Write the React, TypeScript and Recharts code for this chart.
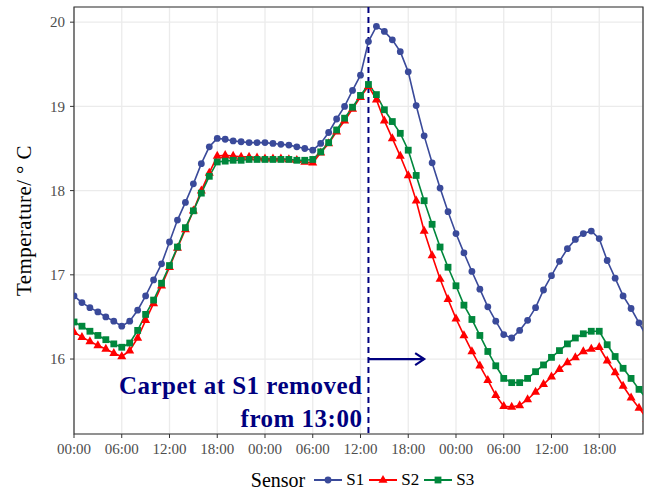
import { LineChart, Line, XAxis, YAxis, CartesianGrid, ReferenceLine, ReferenceArea, Legend } from "recharts";

const FONT = '"Liberation Serif", "DejaVu Serif", serif';
const NAVY = "#00007f";
const C1 = "#3a4a9a";
const C2 = "#ff0000";
const C3 = "#00873c";

// hours since 00:00 of day 1
const hours = [
  0, 1, 2, 3, 4, 5, 6, 7, 8, 9, 10, 11, 12, 13, 14, 15, 16, 17, 18, 19, 20, 21, 22, 23,
  24, 25, 26, 27, 28, 29, 30, 31, 32, 33, 34, 35, 36, 37, 38, 39, 40, 41, 42, 43, 44, 45, 46, 47,
  48, 49, 50, 51, 52, 53, 54, 55, 56, 57, 58, 59, 60, 61, 62, 63, 64, 65, 66, 67, 68, 69, 70, 71, 72,
];

const s1 = [
  16.75, 16.67, 16.61, 16.56, 16.5, 16.45, 16.39, 16.45, 16.58, 16.75, 16.94, 17.13, 17.39, 17.65, 17.86, 18.08,
  18.32, 18.52, 18.62, 18.61, 18.59, 18.58, 18.57, 18.57, 18.57, 18.56, 18.55, 18.54, 18.52, 18.5, 18.48, 18.56,
  18.69, 18.85, 19.0, 19.19, 19.37, 19.77, 19.95, 19.89, 19.79, 19.65, 19.41, 19.01, 18.65, 18.33, 18.03, 17.75,
  17.49, 17.26, 17.04, 16.83, 16.62, 16.45, 16.29, 16.25, 16.34, 16.46, 16.61, 16.82, 16.99, 17.16, 17.31, 17.42,
  17.49, 17.52, 17.43, 17.17, 16.96, 16.75, 16.6, 16.43, 16.26,
];

const s2 = [
  16.32, 16.26, 16.21, 16.16, 16.12, 16.07, 16.03, 16.1, 16.25, 16.46, 16.66, 16.87, 17.09, 17.32, 17.54, 17.76,
  18.0, 18.21, 18.41, 18.42, 18.41, 18.4, 18.4, 18.39, 18.38, 18.38, 18.38, 18.37, 18.36, 18.34, 18.33, 18.45,
  18.56, 18.7, 18.83, 18.97, 19.11, 19.24, 19.08, 18.83, 18.62, 18.41, 18.18, 17.88, 17.52, 17.23, 16.95, 16.71,
  16.48, 16.28, 16.09, 15.92, 15.75, 15.57, 15.44, 15.43, 15.45, 15.52, 15.61, 15.7, 15.79, 15.88, 15.96, 16.02,
  16.09, 16.12, 16.14, 15.98, 15.84, 15.68, 15.54, 15.42, 15.29,
];

const s3 = [
  16.44, 16.39, 16.33, 16.28, 16.23, 16.18, 16.14, 16.19, 16.34, 16.53, 16.7, 16.9, 17.11, 17.33, 17.56, 17.76,
  17.97, 18.17, 18.34, 18.35, 18.36, 18.36, 18.37, 18.37, 18.37, 18.37, 18.37, 18.37, 18.36, 18.36, 18.37, 18.46,
  18.57, 18.72, 18.86, 18.99, 19.13, 19.26, 19.14, 18.96, 18.82, 18.68, 18.48, 18.18, 17.88, 17.6, 17.33, 17.09,
  16.87, 16.64, 16.47, 16.28, 16.09, 15.92, 15.77, 15.72, 15.72, 15.77, 15.85, 15.93, 16.02, 16.1, 16.18, 16.25,
  16.3, 16.33, 16.33, 16.17, 16.03, 15.89, 15.77, 15.64, 15.52,
];

const xTicks = [0, 6, 12, 18, 24, 30, 36, 42, 48, 54, 60, 66];
const xTickLabels = ["00:00", "06:00", "12:00", "18:00", "00:00", "06:00", "12:00", "18:00", "00:00", "06:00", "12:00", "18:00"];
const yTicks = [16, 17, 18, 19, 20];

const X_DOMAIN: [number, number] = [0, 71.5];
const Y_DOMAIN: [number, number] = [15.11, 20.18];
const removedAt = 37; // 13:00 on day 2
const arrowEnd = 44;
const arrowY = 16;

const data = hours.map((h, i) => ({ h, S1: s1[i], S2: s2[i], S3: s3[i] }));

const circleDot = (p: any) => {
  if (p.cx == null || p.cy == null) return <g key={p.index} />;
  return <circle key={p.index} cx={p.cx} cy={p.cy} r={3.4} fill={C1} />;
};

const triangleDot = (p: any) => {
  if (p.cx == null || p.cy == null) return <g key={p.index} />;
  const { cx, cy } = p;
  return <polygon key={p.index} points={`${cx},${cy - 5.2} ${cx - 4.5},${cy + 2.8} ${cx + 4.5},${cy + 2.8}`} fill={C2} />;
};

const squareDot = (p: any) => {
  if (p.cx == null || p.cy == null) return <g key={p.index} />;
  return <rect key={p.index} x={p.cx - 3.4} y={p.cy - 3.4} width={6.8} height={6.8} fill={C3} />;
};

const RemovalLine = (props: any) => {
  const { x1, y1, y2 } = props;
  const top = Math.min(y1, y2);
  const bottom = Math.max(y1, y2);
  const textStyle = { fontFamily: FONT, fontWeight: "bold" as const, fontSize: 25, letterSpacing: 0.5 };
  return (
    <g>
      <line x1={x1} y1={top} x2={x1} y2={bottom} stroke={NAVY} strokeWidth={2} strokeDasharray="6 4" />
      <text x={x1 - 6} y={bottom - 40} textAnchor="end" fill={NAVY} style={textStyle}>
        Carpet at S1 removed
      </text>
      <text x={x1 - 6} y={bottom - 7} textAnchor="end" fill={NAVY} style={textStyle}>
        from 13:00
      </text>
    </g>
  );
};

const Arrow = (props: any) => {
  const { x1, y1, x2 } = props;
  return (
    <g>
      <line x1={x1} y1={y1} x2={x2} y2={y1} stroke={NAVY} strokeWidth={2.2} />
      <polyline points={`${x2 - 9},${y1 - 6} ${x2},${y1} ${x2 - 9},${y1 + 6}`} fill="none" stroke={NAVY} strokeWidth={2.2} />
    </g>
  );
};

const legendItems = [
  { name: "S1", color: C1, shape: "circle" },
  { name: "S2", color: C2, shape: "triangle" },
  { name: "S3", color: C3, shape: "square" },
];

const renderLegend = () => (
  <div style={{ display: "flex", justifyContent: "center", alignItems: "center", height: 32, fontFamily: FONT, color: "#000", paddingTop: 8, paddingLeft: 12, boxSizing: "border-box" }}>
    <span style={{ marginRight: 8, fontSize: 20 }}>Sensor</span>
    {legendItems.map((it) => (
      <span key={it.name} style={{ display: "flex", alignItems: "center", marginRight: 4, fontSize: 17 }}>
        <svg width={30} height={14}>
          <line x1={1} y1={7} x2={29} y2={7} stroke={it.color} strokeWidth={2} />
          {it.shape === "circle" && <circle cx={15} cy={7} r={3.4} fill={it.color} />}
          {it.shape === "triangle" && <polygon points="15,2 10.5,9.8 19.5,9.8" fill={it.color} />}
          {it.shape === "square" && <rect x={11.6} y={3.6} width={6.8} height={6.8} fill={it.color} />}
        </svg>
        <span style={{ marginLeft: 3 }}>{it.name}</span>
      </span>
    ))}
  </div>
);

const renderYLabel = (props: any) => {
  const { viewBox } = props;
  const cx = viewBox.x + 24;
  const cy = viewBox.y + viewBox.height / 2;
  return (
    <text x={cx} y={cy} transform={`rotate(-90, ${cx}, ${cy})`} textAnchor="middle" dominantBaseline="central" fill="#000" style={{ fontFamily: FONT, fontSize: 21, letterSpacing: 0.4 }}>
      Temperature/ ° C
    </text>
  );
};

export default function App() {
  return (
    <div style={{ position: "absolute", left: 0, top: 0, background: "#fff" }}>
      <LineChart width={652} height={492} data={data} margin={{ top: 7, right: 9, left: 0, bottom: 0 }} style={{ fontFamily: FONT }}>
        <CartesianGrid stroke="#ebebeb" strokeWidth={1.3} />
        <XAxis
          dataKey="h"
          type="number"
          domain={X_DOMAIN}
          allowDataOverflow
          ticks={xTicks}
          interval={0}
          tickFormatter={(v: number) => xTickLabels[xTicks.indexOf(v)]}
          height={26}
          tickSize={4}
          tickMargin={5}
          axisLine={false}
          tickLine={{ stroke: "#333" }}
          tick={{ fill: "#4d4d4d", fontSize: 15, fontFamily: FONT }}
        />
        <YAxis
          type="number"
          domain={Y_DOMAIN}
          allowDataOverflow
          ticks={yTicks}
          width={74}
          tickSize={4}
          tickMargin={5}
          axisLine={false}
          tickLine={{ stroke: "#333" }}
          tick={{ fill: "#4d4d4d", fontSize: 15, fontFamily: FONT }}
          label={renderYLabel}
        />
        <Legend verticalAlign="bottom" content={renderLegend} wrapperStyle={{ left: 74, width: 569 }} />
        <Line dataKey="S1" stroke={C1} strokeWidth={1.6} dot={circleDot} activeDot={false} isAnimationActive={false} />
        <Line dataKey="S2" stroke={C2} strokeWidth={1.6} dot={triangleDot} activeDot={false} isAnimationActive={false} />
        <Line dataKey="S3" stroke={C3} strokeWidth={1.6} dot={squareDot} activeDot={false} isAnimationActive={false} />
        <ReferenceLine x={removedAt} shape={RemovalLine} />
        <ReferenceLine segment={[{ x: removedAt, y: arrowY }, { x: arrowEnd, y: arrowY }]} shape={Arrow} />
        <ReferenceArea x1={X_DOMAIN[0]} x2={X_DOMAIN[1]} y1={Y_DOMAIN[0]} y2={Y_DOMAIN[1]} fill="none" stroke="#333" strokeWidth={1.2} />
      </LineChart>
    </div>
  );
}
